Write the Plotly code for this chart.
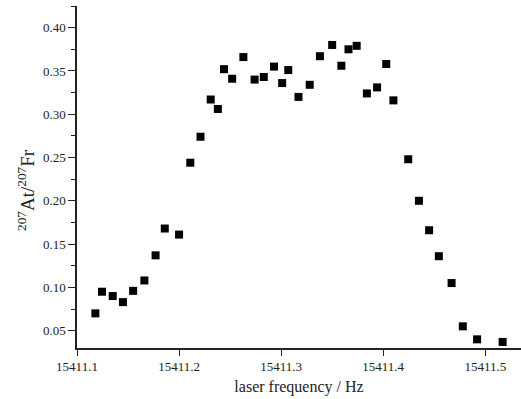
import plotly.graph_objects as go

# Laser frequency scan: 207At / 207Fr ratio
freq = [15411.118, 15411.1245, 15411.135, 15411.145, 15411.155, 15411.166,
        15411.177, 15411.186, 15411.200, 15411.211, 15411.221, 15411.231,
        15411.238, 15411.244, 15411.252, 15411.263, 15411.274, 15411.283,
        15411.293, 15411.301, 15411.307, 15411.317, 15411.328, 15411.338,
        15411.350, 15411.359, 15411.366, 15411.374, 15411.384, 15411.394,
        15411.403, 15411.410, 15411.4245, 15411.435, 15411.445, 15411.4545,
        15411.467, 15411.478, 15411.492, 15411.517]
ratio = [0.070, 0.095, 0.090, 0.083, 0.096, 0.108,
         0.137, 0.168, 0.161, 0.244, 0.274, 0.317,
         0.306, 0.352, 0.341, 0.366, 0.340, 0.343,
         0.355, 0.336, 0.351, 0.320, 0.334, 0.367,
         0.380, 0.356, 0.375, 0.379, 0.324, 0.331,
         0.358, 0.316, 0.248, 0.200, 0.166, 0.136,
         0.105, 0.055, 0.040, 0.037]

x_tickvals = [15411.1, 15411.2, 15411.3, 15411.4, 15411.5]
x_ticktext = ["15411.1", "15411.2", "15411.3", "15411.4", "15411.5"]
y_tickvals = [0.05, 0.10, 0.15, 0.20, 0.25, 0.30, 0.35, 0.40]

serif = "Liberation Serif, Times New Roman, serif"
ink = "#222"

fig = go.Figure(go.Scatter(
    x=freq, y=ratio, mode="markers",
    marker=dict(symbol="square", size=8, color="black", line=dict(width=0)),
    showlegend=False,
))

axis_common = dict(
    showgrid=False, zeroline=False, showline=True,
    linecolor=ink, linewidth=1.5,
    ticks="outside", tickcolor=ink, tickwidth=1.2,
    tickfont=dict(family=serif, size=13, color=ink),
)

fig.update_xaxes(
    **axis_common,
    range=[15411.1, 15411.535],
    tickvals=x_tickvals, ticktext=x_ticktext, ticklen=6,
    title=dict(text="laser frequency / Hz",
               font=dict(family=serif, size=16, color=ink), standoff=7),
)
fig.update_yaxes(
    **axis_common,
    range=[0.03, 0.425],
    tickvals=y_tickvals, tickformat=".2f", ticklen=7,
    minor=dict(ticks="outside", ticklen=4, tickcolor=ink, tickwidth=1.2,
               tick0=0, dtick=0.025),
)

# y-axis label, rotated, with isotope mass numbers as superscripts
fig.add_annotation(
    text="<sup>207</sup>At/<sup>207</sup>Fr",
    xref="paper", yref="paper", x=-0.115, y=0.462,
    xanchor="center", yanchor="middle", textangle=-90, showarrow=False,
    font=dict(family=serif, size=19, color=ink),
)

fig.update_layout(
    width=521, height=399,
    margin=dict(l=77, r=0, t=6, b=51),
    plot_bgcolor="white", paper_bgcolor="white",
)

fig.write_html("out.html")
